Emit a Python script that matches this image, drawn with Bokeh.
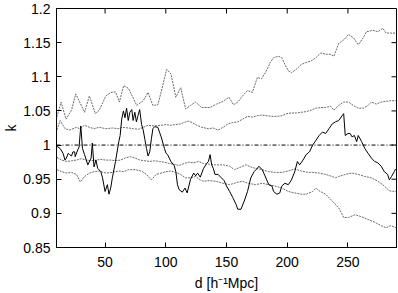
import math
from bokeh.plotting import figure
from bokeh.models import FixedTicker, CustomJSTickFormatter, Span, Range1d
from bokeh.embed import file_html
from bokeh.resources import INLINE

# ---- data ----
black_d = [10.5, 13.0, 15.4, 17.0, 18.1, 19.7, 20.8, 22.4, 23.5, 25.0, 25.4, 27.5, 28.6, 30.0, 31.4,
           33.1, 35.8, 38.5, 39.5, 40.9, 42.5, 43.9, 46.5, 47.9, 50.0, 51.9, 53.2, 54.6, 56.0, 58.6,
           61.3, 62.4, 63.7, 65.1, 66.4, 67.7, 69.1, 70.4, 72.0, 73.1, 74.5, 75.8, 77.1, 78.5, 80.1,
           81.4, 82.8, 84.1, 85.4, 86.8, 88.2, 89.4, 90.8, 93.5, 94.8, 96.2, 98.9, 100.2, 101.5, 104.2,
           106.9, 108.3, 109.6, 110.9, 113.6, 115.8, 117.6, 120.4, 123.0, 124.6, 126.2, 128.4, 131.1,
           133.7, 135.1, 136.5, 137.8, 139.1, 140.5, 143.1, 145.8, 148.0, 150.0, 152.6, 155.2, 157.9,
           159.3, 161.9, 164.6, 167.3, 170.0, 172.7, 175.4, 176.7, 179.4, 180.7, 184.8, 187.4, 188.8,
           191.5, 193.9, 195.5, 198.1, 200.9, 203.5, 206.2, 208.4, 210.2, 213.0, 215.6, 218.3, 221.0,
           223.7, 226.3, 229.0, 231.7, 234.4, 237.1, 239.7, 242.4, 245.2, 246.5, 247.8, 250.0, 251.8,
           253.4, 255.3, 257.2, 258.5, 261.3, 263.9, 266.6, 269.3, 272.0, 274.6, 277.4, 280.0, 282.7,
           284.1, 285.9, 288.1, 289.3]
black_k = [0.998, 0.995, 0.988, 0.978, 0.981, 0.988, 0.986, 0.984, 0.990, 0.990, 0.983, 0.993, 0.997, 1.028, 0.995,
           0.986, 0.971, 0.981, 1.003, 0.968, 0.978, 0.966, 0.961, 0.952, 0.932, 0.942, 0.928, 0.937, 0.952, 0.976,
           1.005, 1.014, 1.038, 1.050, 1.040, 1.054, 1.036, 1.048, 1.052, 1.036, 1.048, 1.034, 1.043, 1.052, 1.030,
           1.022, 1.008, 0.995, 0.984, 0.990, 1.010, 1.024, 1.027, 1.026, 1.019, 1.012, 0.995, 0.988, 0.986, 0.976,
           0.970, 0.961, 0.942, 0.935, 0.931, 0.937, 0.930, 0.950, 0.959, 0.955, 0.959, 0.953, 0.966,
           0.973, 0.976, 0.986, 0.971, 0.966, 0.957, 0.957, 0.952, 0.948, 0.940, 0.932, 0.923, 0.913,
           0.906, 0.906, 0.918, 0.932, 0.952, 0.961, 0.966, 0.969, 0.964, 0.959, 0.942, 0.940, 0.932,
           0.928, 0.930, 0.940, 0.944, 0.942, 0.949, 0.961, 0.976, 0.971, 0.978, 0.986, 0.990, 1.000,
           1.007, 1.014, 1.019, 1.017, 1.024, 1.031, 1.034, 1.036, 1.043, 1.046, 1.014, 1.017, 1.017,
           1.012, 1.014, 1.005, 1.014, 1.005, 0.995, 0.988, 0.981, 0.976, 0.974, 0.969, 0.961, 0.957,
           0.949, 0.954, 0.961, 0.965]

upper2_d = [10.3, 13.8, 17.8, 22.4, 25.8, 29.1, 33.1, 37.1, 42.0, 45.2, 50.6, 54.6, 58.6, 61.8, 65.3,
            69.3, 76.1, 81.4, 85.4, 89.4, 93.5, 97.5, 100.7, 104.3, 108.3, 112.3, 116.3, 120.4, 124.4,
            129.7, 136.5, 141.8, 147.2, 152.0, 155.8, 159.3, 163.3, 167.3, 171.3, 175.4, 178.8, 182.0,
            186.1, 188.8, 192.8, 195.5, 198.1, 200.8, 203.5, 207.5, 211.6, 215.6, 219.6, 223.6, 227.7,
            231.7, 235.7, 238.4, 242.4, 246.5, 250.5, 254.5, 258.5, 262.6, 265.3, 270.6, 274.7, 278.7,
            281.4, 285.4, 289.5]
upper2_k = [1.041, 1.063, 1.038, 1.051, 1.075, 1.063, 1.048, 1.072, 1.046, 1.051, 1.072, 1.077, 1.078, 1.063, 1.087,
            1.083, 1.058, 1.065, 1.077, 1.058, 1.059, 1.087, 1.111, 1.104, 1.070, 1.084, 1.053, 1.058, 1.063,
            1.055, 1.055, 1.060, 1.064, 1.070, 1.059, 1.063, 1.072, 1.080, 1.077, 1.099, 1.097, 1.106,
            1.121, 1.128, 1.130, 1.128, 1.118, 1.109, 1.106, 1.111, 1.118, 1.121, 1.123, 1.128, 1.135,
            1.133, 1.133, 1.130, 1.149, 1.154, 1.162, 1.157, 1.147, 1.157, 1.166, 1.168, 1.166, 1.171,
            1.164, 1.164, 1.164]

upper1_d = [10.3, 13.0, 17.0, 21.0, 26.4, 29.1, 33.1, 37.1, 41.1, 45.2, 50.6, 56.0, 61.3, 64.0, 69.3,
            73.3, 77.4, 81.4, 85.4, 90.7, 96.1, 100.1, 104.1, 108.2, 112.2, 116.3, 118.9, 121.6, 125.6,
            129.7, 135.1, 139.1, 143.1, 147.2, 151.2, 155.2, 159.3, 163.3, 167.3, 171.3, 175.4, 179.4,
            183.4, 187.4, 191.5, 195.5, 199.5, 203.5, 207.5, 211.6, 215.6, 219.6, 223.6, 227.7, 231.7,
            235.7, 238.4, 242.4, 246.5, 250.5, 254.5, 258.5, 262.6, 266.6, 269.3, 273.4, 277.4, 281.4,
            285.4, 289.5]
upper1_k = [1.022, 1.036, 1.024, 1.022, 1.026, 1.024, 1.029, 1.026, 1.024, 1.026, 1.024, 1.025, 1.024, 1.026, 1.025,
            1.024, 1.023, 1.026, 1.029, 1.028, 1.029, 1.030, 1.029, 1.030, 1.031, 1.034, 1.035, 1.033, 1.029,
            1.026, 1.024, 1.025, 1.022, 1.026, 1.031, 1.033, 1.034, 1.038, 1.042, 1.041, 1.043, 1.044,
            1.043, 1.042, 1.042, 1.043, 1.046, 1.047, 1.047, 1.048, 1.049, 1.051, 1.054, 1.055, 1.055,
            1.057, 1.051, 1.058, 1.063, 1.063, 1.058, 1.054, 1.054, 1.058, 1.063, 1.060, 1.063, 1.064,
            1.065, 1.065]

lower1_d = [10.3, 14.3, 18.4, 22.4, 26.4, 30.4, 34.5, 38.5, 42.5, 46.5, 50.6, 54.6, 58.6, 62.6, 66.6,
            70.7, 74.7, 78.7, 82.8, 86.8, 90.8, 94.8, 98.9, 102.9, 106.9, 111.0, 115.0, 119.0, 123.0,
            127.1, 131.1, 136.0, 141.0, 147.2, 152.6, 156.6, 160.6, 166.0, 171.3, 179.4, 184.8, 190.1,
            195.5, 200.9, 206.2, 211.6, 217.0, 221.0, 226.3, 231.7, 237.1, 239.7, 242.4, 247.8, 253.2,
            258.5, 263.9, 269.3, 274.7, 280.0, 284.1, 289.5]
lower1_k = [0.982, 0.978, 0.976, 0.977, 0.978, 0.980, 0.978, 0.977, 0.978, 0.979, 0.978, 0.978, 0.977, 0.978, 0.981,
            0.983, 0.981, 0.978, 0.977, 0.976, 0.977, 0.976, 0.975, 0.973, 0.972, 0.970, 0.973, 0.975, 0.974,
            0.976, 0.973, 0.972, 0.971, 0.971, 0.969, 0.964, 0.967, 0.971, 0.967, 0.964, 0.961, 0.960,
            0.960, 0.962, 0.965, 0.962, 0.960, 0.960, 0.959, 0.957, 0.954, 0.952, 0.954, 0.957, 0.959,
            0.957, 0.954, 0.952, 0.947, 0.940, 0.933, 0.932]

lower2_d = [10.3, 14.3, 18.4, 22.4, 26.4, 29.6, 33.1, 37.1, 41.1, 45.2, 50.6, 56.0, 61.3, 65.3, 69.3,
            74.7, 80.1, 84.1, 88.1, 92.1, 96.1, 100.1, 104.1, 108.2, 112.2, 116.3, 120.3, 124.4, 128.4,
            131.1, 136.0, 141.0, 147.2, 152.6, 158.0, 163.0, 168.0, 174.0, 179.4, 184.8, 190.0, 195.5,
            200.9, 206.0, 211.6, 215.6, 221.0, 223.7, 226.3, 231.7, 237.1, 242.4, 245.2, 246.5, 250.5,
            255.9, 261.3, 266.6, 272.0, 277.4, 281.4, 285.4, 289.5]
lower2_k = [0.964, 0.961, 0.959, 0.960, 0.957, 0.946, 0.954, 0.959, 0.961, 0.962, 0.959, 0.960, 0.962, 0.961, 0.964,
            0.964, 0.962, 0.957, 0.949, 0.957, 0.959, 0.961, 0.962, 0.960, 0.957, 0.952, 0.952, 0.954, 0.949,
            0.947, 0.948, 0.947, 0.944, 0.942, 0.945, 0.947, 0.944, 0.942, 0.944, 0.942, 0.940, 0.937,
            0.932, 0.930, 0.928, 0.928, 0.932, 0.937, 0.933, 0.928, 0.918, 0.908, 0.899, 0.894, 0.894,
            0.898, 0.895, 0.891, 0.887, 0.882, 0.879, 0.882, 0.879]

ref_level = 1.0
x_ticks = [50, 100, 150, 200, 250]
y_ticks = [0.85, 0.9, 0.95, 1.0, 1.05, 1.1, 1.15, 1.2]
x_label = "d [h\u207b\u00b9Mpc]"
y_label = "k"
x_lo, x_hi = 10, 290
y_lo, y_hi = 0.85, 1.2

FONT = "Liberation Sans"
FS = "14px"

p = figure(width=398, height=293, output_backend="svg", toolbar_location=None,
           x_range=Range1d(x_lo, x_hi), y_range=Range1d(y_lo, y_hi),
           min_border_left=50, min_border_right=2, min_border_top=8, min_border_bottom=46)
p.grid.visible = False
p.outline_line_color = "black"
p.outline_line_width = 1
p.background_fill_color = "white"
p.border_fill_color = "white"

fmt = CustomJSTickFormatter(code="return String(Math.round(tick*100)/100);")

for ax, ticks in ((p.xaxis[0], x_ticks), (p.yaxis[0], y_ticks)):
    ax.ticker = FixedTicker(ticks=ticks)
    ax.formatter = fmt
    ax.major_tick_in = 5
    ax.major_tick_out = 0
    ax.minor_tick_line_color = None
    ax.major_label_text_font = FONT
    ax.major_label_text_font_size = FS
    ax.major_label_text_color = "black"
    ax.axis_label_text_font = FONT
    ax.axis_label_text_font_size = FS
    ax.axis_label_text_font_style = "normal"
    ax.axis_label_text_color = "black"
    ax.axis_line_color = "black"

p.xaxis[0].axis_label = x_label
p.xaxis[0].major_label_standoff = 9
p.xaxis[0].axis_label_standoff = 5
p.yaxis[0].axis_label = y_label
p.yaxis[0].major_label_standoff = 6
p.yaxis[0].axis_label_standoff = 1

# mirrored inward ticks on the top and right edges of the frame
p.ray(x=x_ticks, y=[y_hi] * len(x_ticks), length=5, length_units="screen",
      angle=-math.pi / 2, line_color="black", line_width=1)
p.ray(x=[x_hi] * len(y_ticks), y=y_ticks, length=5, length_units="screen",
      angle=math.pi, line_color="black", line_width=1)

gray = "#6a6a6a"
p.line(upper2_d, upper2_k, line_color=gray, line_width=1, line_dash="2 1")
p.line(upper1_d, upper1_k, line_color=gray, line_width=1, line_dash="2 1")
p.line(lower1_d, lower1_k, line_color=gray, line_width=1, line_dash="2 1")
p.line(lower2_d, lower2_k, line_color=gray, line_width=1, line_dash="2 1")
p.add_layout(Span(location=ref_level, dimension="width", line_color="black",
                  line_width=1, line_dash="4 2 1 2"))
p.line(black_d, black_k, line_color="black", line_width=1)

open("out.html", "w").write(file_html(p, INLINE))
